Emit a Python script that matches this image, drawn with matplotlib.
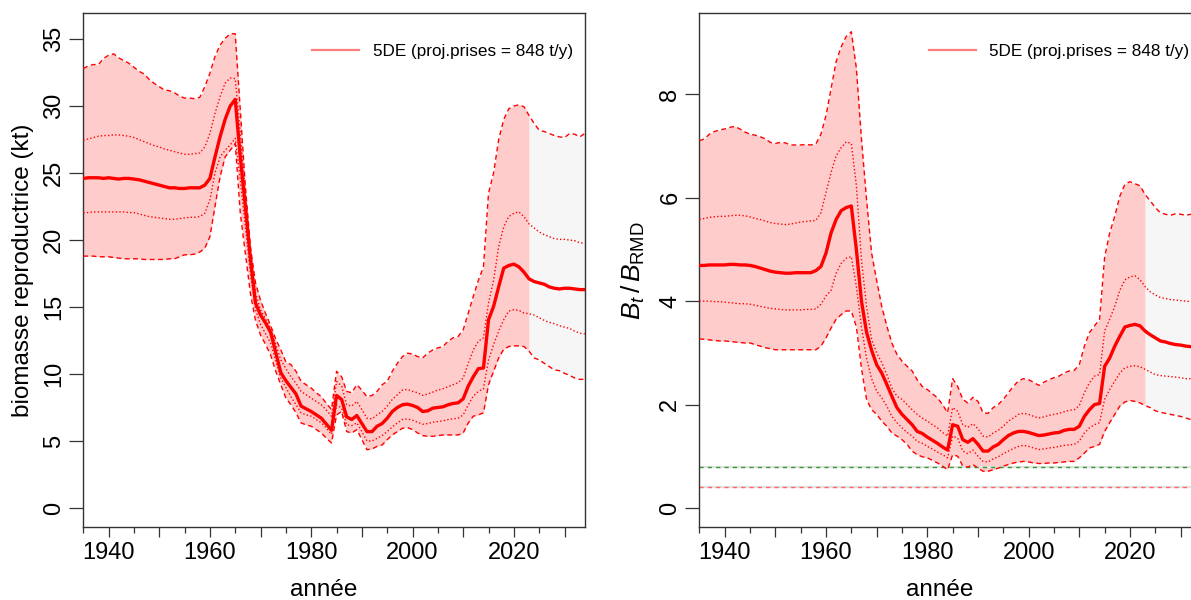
import matplotlib
matplotlib.use("Agg")
import matplotlib.pyplot as plt
from matplotlib.ticker import MultipleLocator, FixedLocator
import numpy as np

plt.rcParams['font.family'] = ['Liberation Sans', 'DejaVu Sans']
plt.rcParams['mathtext.fontset'] = 'custom'
plt.rcParams['mathtext.rm'] = 'Liberation Sans'
plt.rcParams['mathtext.it'] = 'Liberation Sans:italic'

# années 1935-2034 (projection à partir de 2023)
annees = np.arange(1935, 2035)
debut_proj = 2023

# biomasse reproductrice (kt) : médiane, quantiles 25/75 %, bornes 2.5/97.5 %
bio_med = [24.6, 24.65, 24.65, 24.65, 24.6, 24.65, 24.6, 24.55, 24.6, 24.6,
           24.55, 24.5, 24.4, 24.3, 24.2, 24.1, 24.0, 23.9, 23.9, 23.85,
           23.85, 23.9, 23.9, 23.9, 24.1, 24.6, 26.2, 27.7, 29.0, 30.0,
           30.5, 26.2, 22.5, 18.6, 15.3, 14.4, 13.8, 13.1, 11.6, 10.1,
           9.5, 9.0, 8.5, 7.6, 7.4, 7.2, 6.95, 6.7, 6.25, 5.8,
           8.4, 8.1, 6.8, 6.6, 6.9, 6.3, 5.7, 5.7, 6.1, 6.3,
           6.7, 7.2, 7.5, 7.7, 7.75, 7.65, 7.5, 7.2, 7.25, 7.45,
           7.5, 7.55, 7.7, 7.8, 7.85, 8.15, 9.1, 9.8, 10.4, 10.45,
           14.05, 15.05, 16.5, 17.9, 18.1, 18.2, 18.0, 17.6, 17.1, 16.9,
           16.8, 16.7, 16.5, 16.4, 16.35, 16.4, 16.4, 16.35, 16.3, 16.3]
bio_hi = [32.8, 33.0, 33.1, 33.1, 33.55, 33.8, 33.9, 33.6, 33.4, 33.2,
          32.9, 32.6, 32.4, 32.0, 31.7, 31.45, 31.2, 31.15, 31.0, 30.75,
          30.6, 30.6, 30.55, 30.65, 31.45, 32.45, 33.7, 34.55, 35.05, 35.4,
          35.4, 29.7, 24.0, 19.5, 16.8, 15.5, 14.5, 13.6, 12.6, 11.8,
          10.9, 10.7, 10.2, 9.45, 9.2, 8.95, 8.6, 8.3, 7.8, 7.35,
          10.2, 9.8, 8.7, 8.6, 9.2, 8.8, 8.3, 8.4, 8.7, 9.2,
          9.45, 10.2, 10.8, 11.3, 11.55, 11.5, 11.3, 11.2, 11.55, 11.8,
          11.95, 12.05, 12.45, 12.7, 12.8, 13.3, 14.55, 15.8, 17.0, 18.0,
          23.5, 25.0, 27.5, 29.0, 29.8, 30.0, 30.1, 29.95, 29.3, 28.7,
          28.2, 28.1, 27.95, 27.8, 27.7, 27.65, 27.95, 27.9, 27.7, 27.95]
bio_lo = [18.8, 18.8, 18.8, 18.75, 18.75, 18.75, 18.7, 18.65, 18.6, 18.6,
          18.6, 18.6, 18.55, 18.55, 18.55, 18.55, 18.55, 18.6, 18.6, 18.75,
          18.9, 18.9, 18.95, 19.1, 19.4, 20.25, 22.5, 24.7, 26.2, 26.7,
          27.2, 22.0, 19.0, 16.0, 14.0, 12.9, 12.2, 11.4, 10.2, 9.2,
          8.2, 7.7, 7.1, 6.35, 6.2, 6.1, 5.85, 5.6, 5.2, 4.85,
          6.95, 7.2, 5.7, 5.6, 5.85, 5.1, 4.35, 4.4, 4.6, 4.7,
          5.1, 5.45, 5.7, 5.95, 6.0, 5.85, 5.6, 5.4, 5.35, 5.35,
          5.4, 5.45, 5.45, 5.45, 5.45, 5.6, 6.35, 6.85, 6.95, 7.1,
          9.2, 10.2, 11.2, 11.85, 12.05, 12.1, 12.1, 12.05, 11.7, 11.2,
          11.05, 10.8, 10.55, 10.3, 10.25, 10.05, 9.9, 9.7, 9.6, 9.6]
bio_q75 = [27.45, 27.55, 27.65, 27.75, 27.8, 27.8, 27.85, 27.85, 27.8, 27.75,
           27.65, 27.5, 27.35, 27.2, 27.05, 26.95, 26.8, 26.7, 26.6, 26.5,
           26.4, 26.4, 26.45, 26.5, 26.95, 27.95, 29.45, 30.7, 31.7, 32.1,
           32.05, 28.0, 23.5, 19.2, 16.0, 14.8, 14.1, 13.4, 12.2, 11.05,
           10.4, 9.8, 9.3, 8.7, 8.45, 8.2, 7.95, 7.7, 7.3, 6.85,
           9.45, 9.1, 7.7, 7.6, 7.95, 7.35, 6.7, 6.65, 6.95, 7.2,
           7.6, 8.1, 8.45, 8.8, 8.85, 8.7, 8.6, 8.4, 8.5, 8.65,
           8.8, 8.9, 9.05, 9.2, 9.35, 9.7, 10.8, 11.8, 12.45, 12.7,
           15.3, 17.0, 19.5, 21.0, 21.75, 22.0, 22.1, 21.75, 21.2, 20.9,
           20.6, 20.4, 20.25, 20.1, 20.05, 20.05, 20.0, 19.95, 19.8, 19.75]
bio_q25 = [22.05, 22.05, 22.1, 22.1, 22.1, 22.1, 22.1, 22.1, 22.1, 22.05,
           22.05, 21.95, 21.85, 21.75, 21.7, 21.65, 21.6, 21.55, 21.55, 21.6,
           21.65, 21.7, 21.7, 21.75, 22.0, 23.0, 25.0, 26.2, 26.7, 27.1,
           27.6, 24.5, 21.0, 17.5, 14.8, 13.7, 13.0, 12.3, 11.0, 9.7,
           9.0, 8.3, 7.7, 7.1, 6.95, 6.85, 6.6, 6.35, 5.95, 5.5,
           7.7, 7.45, 6.2, 6.15, 6.35, 5.7, 5.0, 5.0, 5.2, 5.4,
           5.7, 6.05, 6.35, 6.6, 6.65, 6.55, 6.4, 6.25, 6.3, 6.4,
           6.45, 6.5, 6.6, 6.65, 6.7, 6.95, 7.7, 8.35, 8.7, 8.9,
           11.05, 12.2, 13.2, 14.05, 14.7, 14.8, 14.75, 14.55, 14.5, 14.4,
           14.2, 14.0, 13.85, 13.75, 13.6, 13.5, 13.4, 13.2, 13.05, 13.0]

# Bt / B_RMD
rel_med = [4.69, 4.69, 4.70, 4.70, 4.70, 4.70, 4.71, 4.71, 4.70, 4.70,
           4.69, 4.67, 4.64, 4.61, 4.58, 4.56, 4.55, 4.54, 4.54, 4.55,
           4.55, 4.55, 4.55, 4.59, 4.67, 4.93, 5.32, 5.58, 5.75, 5.81,
           5.84, 4.99, 4.0, 3.4, 3.05, 2.77, 2.61, 2.39, 2.16, 1.94,
           1.81, 1.71, 1.61, 1.48, 1.44, 1.37, 1.31, 1.25, 1.18, 1.12,
           1.61, 1.58, 1.32, 1.27, 1.34, 1.23, 1.10, 1.10, 1.18, 1.23,
           1.32, 1.40, 1.45, 1.48, 1.48, 1.46, 1.43, 1.40, 1.41, 1.43,
           1.45, 1.46, 1.50, 1.52, 1.52, 1.58, 1.77, 1.90, 2.00, 2.02,
           2.74, 2.90, 3.13, 3.32, 3.50, 3.53, 3.55, 3.52, 3.42, 3.35,
           3.29, 3.23, 3.21, 3.18, 3.16, 3.15, 3.13, 3.12, 3.11, 3.10]
rel_hi = [7.10, 7.14, 7.23, 7.28, 7.31, 7.33, 7.36, 7.38, 7.33, 7.27,
          7.23, 7.21, 7.18, 7.14, 7.07, 7.05, 7.07, 7.06, 7.02, 7.02,
          7.02, 7.03, 7.02, 7.04, 7.23, 7.59, 8.11, 8.63, 8.92, 9.12,
          9.21, 8.5, 7.14, 5.97, 4.93, 4.4, 3.9, 3.52, 3.19, 2.97,
          2.84, 2.74, 2.65, 2.48, 2.35, 2.29, 2.21, 2.13, 2.0, 1.84,
          2.50, 2.35, 2.10, 2.03, 2.14, 2.06, 1.84, 1.83, 1.94, 2.0,
          2.10, 2.23, 2.35, 2.46, 2.50, 2.48, 2.43, 2.37, 2.43, 2.48,
          2.52, 2.55, 2.61, 2.65, 2.66, 2.77, 3.13, 3.39, 3.52, 3.65,
          4.85, 5.32, 5.64, 6.03, 6.26, 6.31, 6.27, 6.23, 6.06, 5.94,
          5.81, 5.71, 5.68, 5.66, 5.69, 5.68, 5.66, 5.68, 5.66, 5.65]
rel_lo = [3.27, 3.26, 3.25, 3.24, 3.23, 3.23, 3.22, 3.21, 3.20, 3.19,
          3.19, 3.16, 3.13, 3.10, 3.08, 3.06, 3.06, 3.06, 3.06, 3.06,
          3.06, 3.06, 3.06, 3.06, 3.13, 3.29, 3.48, 3.65, 3.74, 3.81,
          3.81, 3.5, 2.7, 2.1, 1.9, 1.81, 1.68, 1.58, 1.45, 1.39,
          1.32, 1.23, 1.10, 1.03, 0.99, 0.97, 0.92, 0.87, 0.81, 0.74,
          1.03, 1.0, 0.81, 0.79, 0.84, 0.77, 0.71, 0.71, 0.74, 0.77,
          0.81, 0.84, 0.87, 0.89, 0.90, 0.89, 0.87, 0.86, 0.86, 0.87,
          0.87, 0.88, 0.89, 0.90, 0.90, 0.97, 1.06, 1.16, 1.19, 1.23,
          1.48, 1.65, 1.81, 1.97, 2.05, 2.08, 2.06, 2.03, 1.98, 1.94,
          1.88, 1.85, 1.83, 1.81, 1.79, 1.77, 1.74, 1.71, 1.70, 1.68]
rel_q75 = [5.58, 5.60, 5.62, 5.63, 5.64, 5.64, 5.65, 5.66, 5.66, 5.65,
           5.63, 5.60, 5.58, 5.55, 5.52, 5.50, 5.49, 5.48, 5.49, 5.51,
           5.53, 5.54, 5.55, 5.56, 5.71, 6.10, 6.49, 6.81, 6.97, 7.08,
           7.05, 6.23, 4.8, 3.9, 3.26, 3.0, 2.81, 2.58, 2.32, 2.16,
           2.10, 2.0, 1.90, 1.81, 1.74, 1.68, 1.61, 1.55, 1.46, 1.39,
           1.94, 1.87, 1.61, 1.56, 1.63, 1.53, 1.39, 1.37, 1.45, 1.50,
           1.58, 1.68, 1.74, 1.81, 1.83, 1.81, 1.77, 1.74, 1.76, 1.79,
           1.81, 1.83, 1.86, 1.89, 1.90, 1.98, 2.23, 2.42, 2.55, 2.58,
           3.42, 3.65, 3.9, 4.21, 4.41, 4.47, 4.49, 4.41, 4.28, 4.18,
           4.12, 4.07, 4.05, 4.03, 4.02, 4.01, 4.0, 3.99, 3.98, 3.97]
rel_q25 = [4.00, 4.00, 4.00, 3.99, 3.99, 3.98, 3.97, 3.96, 3.95, 3.95,
           3.94, 3.92, 3.90, 3.88, 3.86, 3.85, 3.84, 3.83, 3.83, 3.83,
           3.83, 3.84, 3.84, 3.85, 3.94, 4.1, 4.21, 4.54, 4.73, 4.83,
           4.86, 4.28, 3.5, 2.9, 2.5, 2.26, 2.13, 1.97, 1.77, 1.65,
           1.55, 1.46, 1.39, 1.29, 1.25, 1.19, 1.14, 1.08, 1.03, 0.97,
           1.39, 1.35, 1.10, 1.05, 1.12, 1.0, 0.90, 0.89, 0.95, 0.99,
           1.05, 1.10, 1.15, 1.19, 1.21, 1.19, 1.16, 1.13, 1.14, 1.16,
           1.17, 1.19, 1.21, 1.22, 1.23, 1.29, 1.45, 1.55, 1.61, 1.65,
           2.10, 2.29, 2.45, 2.61, 2.71, 2.74, 2.75, 2.73, 2.68, 2.63,
           2.58, 2.56, 2.55, 2.54, 2.53, 2.52, 2.50, 2.50, 2.49, 2.48]

# points de référence (fractions de B_RMD)
ref_sup = 0.8
ref_lim = 0.4

legende = '5DE (proj.prises = 848 t/y)'
rouge = '#FF0000'
rose = '#FFCCCC'
gris_proj = '#F6F6F6'


def panneau(ax, med, lo, hi, q25, q75, ylim, yticks):
    med, lo, hi = np.array(med), np.array(lo), np.array(hi)
    hist = annees <= debut_proj
    proj = annees >= debut_proj
    ax.fill_between(annees[hist], lo[hist], hi[hist], color=rose, lw=0, zorder=1)
    ax.fill_between(annees[proj], lo[proj], hi[proj], color=gris_proj, lw=0, zorder=1)
    ax.plot(annees, hi, color=rouge, lw=1.0, dashes=(3.5, 2.5), zorder=3)
    ax.plot(annees, lo, color=rouge, lw=1.0, dashes=(3.5, 2.5), zorder=3)
    ax.plot(annees, q75, color=rouge, lw=1.0, dashes=(1.0, 1.6), zorder=3)
    ax.plot(annees, q25, color=rouge, lw=1.0, dashes=(1.0, 1.6), zorder=3)
    ax.plot(annees, med, color=rouge, lw=2.4, zorder=4)
    # ligne de légende seule
    ax.plot([], [], color='#FF7F7F', lw=1.6, label=legende)

    ax.set_xlim(1935, 2034)
    ax.set_ylim(*ylim)
    ax.xaxis.set_major_locator(MultipleLocator(10))
    ax.xaxis.set_minor_locator(MultipleLocator(5))
    ax.set_xticklabels([str(int(t)) if int(t) % 20 == 0 else '' for t in ax.get_xticks()])
    ax.yaxis.set_major_locator(FixedLocator(yticks))
    ax.tick_params(axis='x', which='major', length=7, width=0.9, color='#333333',
                   labelsize=17, pad=4)
    ax.tick_params(axis='x', which='minor', length=4, width=0.9, color='#333333')
    ax.tick_params(axis='y', length=10, width=0.9, color='#333333', labelsize=17,
                   labelrotation=90, pad=3)
    for lab in ax.get_yticklabels():
        lab.set_va('center')
    for s in ax.spines.values():
        s.set_color('#333333')
        s.set_linewidth(1.0)
    ax.set_xlabel('année', fontsize=17.5)
    ax.xaxis.label.set_va('center')
    ax.xaxis.set_label_coords(0.48, -0.122)
    ax.legend(loc='center right', bbox_to_anchor=(0.977, 0.925), frameon=False,
              fontsize=12.3, handlelength=2.75, handletextpad=0.8,
              borderpad=0, borderaxespad=0)


fig = plt.figure(figsize=(11.91, 6.0), dpi=100)
ax1 = fig.add_axes([0.0699, 0.1217, 0.4211, 0.856])
ax2 = fig.add_axes([0.5872, 0.1217, 0.4211, 0.856])

panneau(ax1, bio_med, bio_lo, bio_hi, bio_q25, bio_q75,
        (-1.42, 36.92), [0, 5, 10, 15, 20, 25, 30, 35])
ax1.set_ylabel('biomasse reproductrice (kt)', fontsize=17.5)
ax1.yaxis.label.set_va('center')
ax1.yaxis.set_label_coords(-0.121, 0.5)

panneau(ax2, rel_med, rel_lo, rel_hi, rel_q25, rel_q75,
        (-0.368, 9.565), [0, 2, 4, 6, 8])
for niveau, coul in ((ref_sup, '#339933'), (ref_lim, '#FF6666')):
    ax2.axhline(niveau, color='#E2E2E2', lw=1.6, zorder=2)
    ax2.axhline(niveau, color=coul, lw=1.0, dashes=(3, 3), zorder=2)
ax2.set_ylabel(r'$B_t\,/\,B_{\mathrm{RMD}}$', fontsize=19)
ax2.yaxis.label.set_va('center')
ax2.yaxis.set_label_coords(-0.132, 0.5)

fig.savefig('out.png', dpi=100)
